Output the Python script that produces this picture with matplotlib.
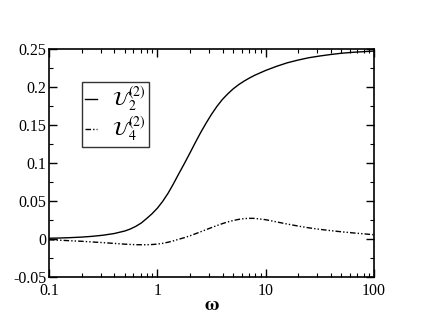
import numpy as np
import matplotlib
matplotlib.use("Agg")
import matplotlib.pyplot as plt
from matplotlib.ticker import MultipleLocator, LogLocator, NullFormatter, FuncFormatter

plt.rcParams['font.family'] = ['Liberation Serif', 'DejaVu Serif']
plt.rcParams['mathtext.fontset'] = 'stix'

# kurvor
omega_u2 = [0.1, 0.126, 0.158, 0.2, 0.25, 0.316, 0.4, 0.5, 0.56, 0.63, 0.71, 0.79, 0.89, 1.0,
            1.12, 1.26, 1.41, 1.58, 1.78, 2.0, 2.24, 2.51, 2.82, 3.16, 3.55, 3.98, 4.47, 5.01,
            5.62, 6.31, 7.08, 7.94, 10, 12.6, 15.8, 20, 25, 31.6, 40, 50, 63, 80, 100]
u2 = [0.001, 0.0013, 0.0018, 0.0025, 0.0035, 0.005, 0.0072, 0.0105, 0.013, 0.0165, 0.021,
      0.0265, 0.033, 0.0405, 0.0495, 0.0605, 0.0728, 0.086, 0.0995, 0.1132, 0.1268, 0.14,
      0.1525, 0.164, 0.1745, 0.1835, 0.191, 0.1975, 0.203, 0.2077, 0.2118, 0.2155, 0.2218,
      0.2272, 0.2318, 0.2355, 0.2385, 0.2408, 0.2428, 0.2444, 0.2456, 0.2465, 0.2473]

omega_u4 = [0.1, 0.126, 0.158, 0.2, 0.25, 0.316, 0.4, 0.5, 0.63, 0.79, 0.89, 1.0, 1.12, 1.26,
            1.41, 1.58, 1.78, 2.0, 2.24, 2.51, 2.82, 3.16, 3.55, 3.98, 4.47, 5.01, 5.62, 6.31,
            7.08, 7.94, 10, 12.6, 15.8, 20, 25, 31.6, 40, 50, 63, 80, 100]
u4 = [-0.001, -0.0016, -0.0023, -0.003, -0.0039, -0.0048, -0.0058, -0.0068, -0.0075, -0.0076,
      -0.0073, -0.0067, -0.0057, -0.0042, -0.0024, -0.0003, 0.0018, 0.0042, 0.0068, 0.0095,
      0.0123, 0.015, 0.0177, 0.0202, 0.0225, 0.0243, 0.0258, 0.0268, 0.0272, 0.0271, 0.0254,
      0.0225, 0.0197, 0.017, 0.0147, 0.0127, 0.011, 0.0095, 0.0081, 0.0068, 0.0056]

fig = plt.figure(figsize=(4.21, 3.26), dpi=100)
ax = fig.add_axes([49 / 421, 1 - 277 / 326, 325 / 421, 228 / 326])

ax.plot(omega_u2, u2, '-', color='black', lw=1.0, label=r'$\mathcal{U}_2^{(2)}$')
ax.plot(omega_u4, u4, color='black', lw=1.0, dashes=[4, 1.5, 1, 1.5, 1, 1.5], label=r'$\mathcal{U}_4^{(2)}$')

ax.set_xscale('log')
ax.set_xlim(0.1, 100)
ax.set_ylim(-0.05, 0.25)
ax.yaxis.set_major_locator(MultipleLocator(0.05))
ax.yaxis.set_minor_locator(MultipleLocator(0.025))
ax.xaxis.set_minor_locator(LogLocator(subs=np.arange(2, 10), numticks=20))
ax.xaxis.set_minor_formatter(NullFormatter())
ax.xaxis.set_major_formatter(FuncFormatter(lambda v, p: '%g' % v))
ax.yaxis.set_major_formatter(FuncFormatter(lambda v, p: '0' if abs(v) < 1e-9 else ('%g' % v)))

ax.tick_params(which='both', direction='in', top=True, right=True, labelsize=11.5)
ax.tick_params(axis='y', pad=2)
ax.tick_params(axis='x', pad=4)
ax.tick_params(which='major', length=6, width=1)
ax.tick_params(which='minor', length=3, width=0.8)
for s in ax.spines.values():
    s.set_linewidth(1.2)

ax.set_xlabel(r'$\mathbf{\omega}$', fontsize=14, labelpad=-1)

leg = ax.legend(loc='upper left', bbox_to_anchor=(0.1015, 0.855), fontsize=14,
                frameon=True, fancybox=False, handlelength=0.6, handletextpad=0.8,
                borderpad=0.15, labelspacing=0.05, borderaxespad=0)
leg.get_frame().set_edgecolor('black')
leg.get_frame().set_linewidth(1.0)

fig.savefig('out.png', dpi=100)
